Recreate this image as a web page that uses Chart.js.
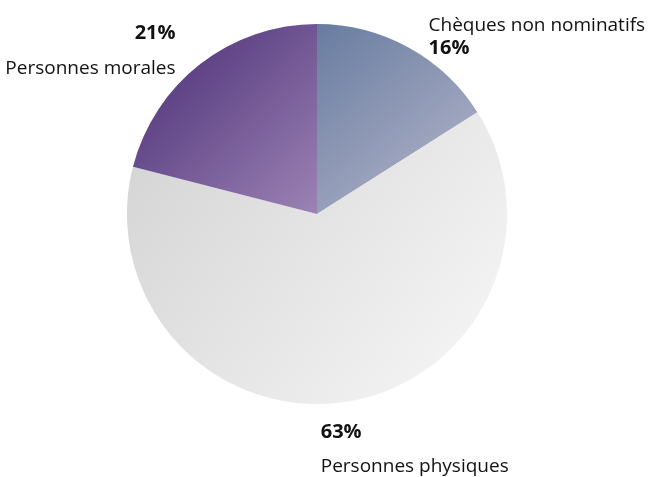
<!DOCTYPE html>
<html>
<head>
<meta charset="utf-8">
<script src="https://cdn.jsdelivr.net/npm/chart.js@4"></script>
<style>
  html, body { margin: 0; padding: 0; background: #fff; }
  #wrap { width: 657px; height: 477px; }
</style>
</head>
<body>
<div id="wrap"><canvas id="chart" width="657" height="477"></canvas></div>
<script>
const labels = ['Chèques non nominatifs', 'Personnes physiques', 'Personnes morales'];
const shares = [16, 63, 21];
const pctLabels = ['16%', '63%', '21%'];

// gradient stops per slice: [top-left, bottom-right]
const sliceColors = [
  ['#687ca0', '#b8b8cc'],
  ['#d3d3d3', '#f8f8f8'],
  ['#472a74', '#9c83b4']
];

// slice gradient over the slice's bounding box (geometry from chartArea + data)
function arcGradient(ctx) {
  const chart = ctx.chart;
  const c = sliceColors[ctx.dataIndex];
  const area = chart.chartArea;
  if (!area) return c[0];
  const cx = (area.left + area.right) / 2;
  const cy = (area.top + area.bottom) / 2;
  const r = Math.min(area.right - area.left, area.bottom - area.top) / 2;
  const total = shares.reduce((a, b) => a + b, 0);
  let before = 0;
  for (let i = 0; i < ctx.dataIndex; i++) before += shares[i];
  const a0 = -Math.PI / 2 + before / total * 2 * Math.PI;
  const a1 = a0 + shares[ctx.dataIndex] / total * 2 * Math.PI;
  const xs = [cx], ys = [cy];
  for (let i = 0; i <= 60; i++) {
    const a = a0 + (a1 - a0) * i / 60;
    xs.push(cx + r * Math.cos(a));
    ys.push(cy + r * Math.sin(a));
  }
  const g = chart.ctx.createLinearGradient(Math.min(...xs), Math.min(...ys), Math.max(...xs), Math.max(...ys));
  g.addColorStop(0, c[0]);
  g.addColorStop(1, c[1]);
  return g;
}

// labels next to each slice: bold percent + name
const outsideLabels = {
  id: 'outsideLabels',
  afterDatasetsDraw(chart, args, opts) {
    const { ctx } = chart;
    const meta = chart.getDatasetMeta(0);
    ctx.save();
    meta.data.forEach((arc, i) => {
      const p = arc.getProps(['x', 'y', 'startAngle', 'endAngle', 'outerRadius'], true);
      const mid = (p.startAngle + p.endAngle) / 2;
      const ax = p.x + p.outerRadius * Math.cos(mid);
      const ay = p.y + p.outerRadius * Math.sin(mid);
      const o = opts.place[i];
      ctx.textAlign = o.align;
      ctx.textBaseline = 'middle';
      ctx.fillStyle = '#111';
      const lines = o.pctFirst
        ? [[pctLabels[i], 'bold 20px'], [labels[i], '19px']]
        : [[labels[i], '19px'], [pctLabels[i], 'bold 20px']];
      lines.forEach((ln, k) => {
        ctx.font = ln[1] + ' "Open Sans", sans-serif';
        ctx.fillText(ln[0], ax + o.dx, ay + o.dy + k * o.gap);
      });
    });
    ctx.restore();
  }
};

new Chart(document.getElementById('chart'), {
  type: 'pie',
  data: {
    labels: labels,
    datasets: [{
      data: shares,
      backgroundColor: arcGradient,
      borderWidth: 0
    }]
  },
  options: {
    responsive: false,
    animation: false,
    layout: { padding: { left: 127, right: 150, top: 24, bottom: 73 } },
    plugins: {
      legend: { display: false },
      tooltip: { enabled: false },
      outsideLabels: {
        place: [
          { align: 'left', dx: 20, dy: -22, gap: 23, pctFirst: false },
          { align: 'left', dx: -26, dy: 31, gap: 34, pctFirst: true },
          { align: 'right', dx: -25, dy: -31, gap: 36, pctFirst: true }
        ]
      }
    }
  },
  plugins: [outsideLabels]
});
</script>
</body>
</html>
